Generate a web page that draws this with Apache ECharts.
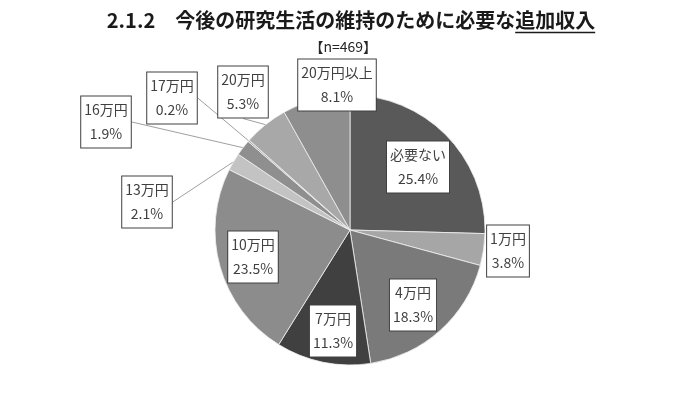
<!DOCTYPE html>
<html>
<head>
<meta charset="utf-8">
<script src="https://cdn.jsdelivr.net/npm/echarts@6/dist/echarts.min.js"></script>
<style>html,body{margin:0;padding:0;background:#fff;}#chart{width:700px;height:394px;}</style>
</head>
<body>
<div id="chart"></div>
<script>
// ---- data ----
const categories = ['必要ない','1万円','4万円','7万円','10万円','13万円','16万円','17万円','20万円','20万円以上'];
const values = [25.4, 3.8, 18.3, 11.3, 23.5, 2.1, 1.9, 0.2, 5.3, 8.1];
const titleText = '2.1.2\u3000今後の研究生活の維持のために必要な';
const titleUnderlined = '追加収入';
const sampleNote = '【n=469】';

// ---- styling / layout (not data) ----
const colors = ['#595959','#a6a6a6','#7a7a7a','#404040','#8c8c8c','#c3c3c3','#8f8f8f','#b0b0b0','#a8a8a8','#8e8e8e'];
const labelCenters = [[418,167],[508,251],[413,305],[333,331],[253,257],[147,202],[106,122],[172,98],[243,92],[337,85]];
const showLine = [false,false,false,false,false,true,true,true,true,false];
const FONT = '"Noto Sans CJK JP","Noto Sans",sans-serif';
const titleFont = 'bold 20px ' + FONT;
const titleCenterX = 351, titleY = 20;

// measure title for underline placement
const ctx = document.createElement('canvas').getContext('2d');
ctx.font = titleFont;
const wAll = ctx.measureText(titleText + titleUnderlined).width;
const wPre = ctx.measureText(titleText).width;
const tLeft = titleCenterX - wAll / 2;

const chart = echarts.init(document.getElementById('chart'), null, {renderer:'canvas'});
const data = categories.map((c,i)=>({
  name:c, value:values[i],
  itemStyle:{color:colors[i]},
  labelLine:{show:showLine[i]}
}));
chart.setOption({
  animation:false,
  backgroundColor:'#fff',
  graphic:[
    {type:'text', x:tLeft, y:titleY, style:{
      text:titleText+titleUnderlined, font:titleFont, fill:'#1a1a1a', align:'left', verticalAlign:'middle'}},
    {type:'line', shape:{x1:tLeft+wPre, y1:titleY+12.5, x2:tLeft+wAll, y2:titleY+12.5},
      style:{stroke:'#1a1a1a', lineWidth:1.6}},
    {type:'text', x:377, y:47, style:{text:sampleNote, font:'14px '+FONT, fill:'#262626', align:'right', verticalAlign:'middle'}}
  ],
  series:[{
    type:'pie',
    center:[350,230],
    radius:135,
    startAngle:90,
    clockwise:true,
    avoidLabelOverlap:false,
    data:data,
    itemStyle:{borderColor:'#f0f0f0', borderWidth:0.8},
    label:{
      show:true,
      position:'outside',
      formatter:p=>p.name+'\n'+p.value.toFixed(1)+'%',
      fontFamily:FONT,
      fontSize:14,
      color:'#404040',
      lineHeight:24,
      align:'center',
      backgroundColor:'#fff',
      borderColor:'#404040',
      borderWidth:1,
      padding:[2,3,1,3]
    },
    labelLine:{length:10,length2:0,lineStyle:{color:'#a0a0a0',width:1}},
    labelLayout:function(p){
      const c = labelCenters[p.dataIndex];
      return {x:c[0], y:c[1], align:'center', verticalAlign:'middle'};
    }
  }]
});
</script>
</body>
</html>
